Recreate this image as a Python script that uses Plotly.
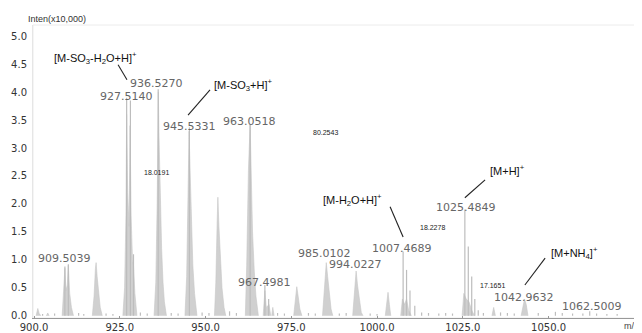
import plotly.graph_objects as go

# ---------------- data ----------------
# profile clusters (m/z, intensity x10,000)
profile_clusters = [
    [(900.6, 0), (901.1, 0.13), (901.5, 0.04), (902.0, 0)],
    [(903.6, 0), (904.0, 0.05), (904.4, 0)],
    [(908.2, 0), (908.6, 0.35), (909.0, 0.85), (909.3, 0.45), (909.7, 0.55), (910.0, 0.9), (910.4, 0.4), (910.9, 0.15), (911.5, 0)],
    [(917.0, 0), (917.5, 0.35), (917.9, 0.85), (918.1, 0.95), (918.4, 0.7), (918.8, 0.4), (919.3, 0.15), (919.9, 0)],
    [(925.9, 0), (926.4, 0.5), (926.8, 1.8), (927.0, 3.6), (927.3, 2.2), (927.7, 1.6), (928.0, 3.4), (928.3, 1.8), (928.7, 1.0), (929.0, 0.9), (929.4, 0.4), (930.0, 0)],
    [(935.0, 0), (935.5, 0.6), (935.9, 2.0), (936.1, 3.6), (936.25, 4.0), (936.4, 3.3), (936.8, 2.0), (937.2, 1.2), (937.6, 0.6), (938.0, 0.25), (938.6, 0)],
    [(944.0, 0), (944.5, 0.7), (944.9, 2.2), (945.2, 3.3), (945.5, 2.6), (945.9, 1.6), (946.3, 0.9), (946.8, 0.4), (947.5, 0)],
    [(952.6, 0), (953.0, 0.6), (953.4, 1.7), (953.6, 2.12), (953.9, 1.6), (954.3, 1.0), (954.8, 0.5), (955.4, 0.15), (955.9, 0)],
    [(961.6, 0), (962.0, 0.9), (962.5, 2.6), (962.9, 3.3), (963.0, 3.42), (963.3, 2.6), (963.7, 1.5), (964.2, 0.8), (964.7, 0.35), (965.4, 0)],
    [(966.8, 0), (967.3, 0.45), (967.7, 0.15), (968.5, 0.2), (969.0, 0)],
    [(969.3, 0), (969.6, 0.15), (970.0, 0)],
    [(975.7, 0), (976.1, 0.3), (976.6, 0.52), (977.0, 0.35), (977.5, 0.12), (978.1, 0)],
    [(984.1, 0), (984.6, 0.45), (985.0, 0.85), (985.2, 0.95), (985.6, 0.7), (986.0, 0.45), (986.6, 0.12), (987.1, 0)],
    [(992.9, 0), (993.4, 0.4), (993.9, 0.8), (994.3, 0.55), (994.8, 0.28), (995.4, 0.06), (995.9, 0)],
    [(1002.4, 0), (1002.8, 0.2), (1003.2, 0.42), (1003.6, 0.2), (1004.0, 0)],
    [(1006.9, 0), (1007.4, 0.3), (1008.0, 0.2), (1008.6, 0.3), (1009.2, 0.1), (1010.0, 0)],
    [(1024.8, 0), (1025.3, 0.4), (1026.0, 0.3), (1026.8, 0.25), (1027.6, 0.1), (1028.4, 0)],
    [(1033.5, 0), (1034.0, 0.15), (1034.5, 0)],
    [(1042.0, 0), (1042.5, 0.18), (1043.0, 0.3), (1043.5, 0.2), (1044.0, 0)],
]

# centroid sticks (m/z, intensity)
stick_mz = [909.0, 910.0, 927.0, 928.1, 929.0, 936.2, 945.3, 963.0, 967.3, 968.4,
            1007.6, 1008.6, 1009.6, 1011.0, 1025.6, 1026.6, 1027.6, 1028.5, 1029.5,
            902.5, 906, 913, 914.5, 921, 923, 931, 933, 940, 942, 949, 951, 957, 959,
            971, 973, 980, 982, 989, 991, 998, 1000, 1013, 1015, 1018, 1020, 1022,
            1031, 1036, 1038, 1040, 1047, 1052, 1054, 1057, 1060, 1062, 1064, 1067, 1070]
stick_int = [0.88, 0.92, 3.9, 3.85, 1.1, 4.05, 3.37, 3.42, 0.55, 0.3,
             1.15, 0.82, 0.45, 0.18, 1.9, 1.24, 0.7, 0.3, 0.1,
             0.03, 0.04, 0.05, 0.03, 0.04, 0.03, 0.06, 0.04, 0.05, 0.04, 0.06, 0.05, 0.08, 0.05,
             0.05, 0.04, 0.05, 0.04, 0.04, 0.05, 0.04, 0.03, 0.06, 0.05, 0.04, 0.05, 0.04,
             0.05, 0.06, 0.05, 0.04, 0.05, 0.07, 0.05, 0.04, 0.04, 0.08, 0.04, 0.03, 0.03]

# peak labels (text, m/z, y)
peak_labels = ["909.5039", "927.5140", "936.5270", "945.5331", "963.0518", "967.4981",
               "985.0102", "994.0227", "1007.4689", "1025.4849", "1042.9632", "1062.5009"]
peak_label_x = [908.9, 927.0, 935.7, 945.3, 962.8, 967.2, 984.7, 993.7, 1007.4, 1025.9, 1042.8, 1062.7]
peak_label_y = [1.02, 3.93, 4.16, 3.39, 3.47, 0.60, 1.12, 0.91, 1.21, 1.93, 0.32, 0.16]

small_labels = ["18.0191", "80.2543", "18.2278", "17.1651"]
small_label_x = [935.6, 985.1, 1016.2, 1033.7]
small_label_y = [2.56, 3.27, 1.57, 0.55]

ion_labels = ["[M-SO<sub>3</sub>-H<sub>2</sub>O+H]<sup>+</sup>", "[M-SO<sub>3</sub>+H]<sup>+</sup>",
              "[M-H<sub>2</sub>O+H]<sup>+</sup>", "[M+H]<sup>+</sup>", "[M+NH<sub>4</sub>]<sup>+</sup>"]
ion_label_x = [917.8, 961.1, 992.9, 1038.0, 1057.6]
ion_label_y = [4.61, 4.13, 2.07, 2.61, 1.12]
leaders = [((924.5, 4.49), (927.1, 4.22)),
           ((951.3, 4.04), (944.9, 3.59)),
           ((1003.8, 1.95), (1007.6, 1.41)),
           ((1031.5, 2.43), (1025.6, 2.11)),
           ((1049.0, 1.03), (1043.1, 0.55))]

x_ticks = [900, 925, 950, 975, 1000, 1025, 1050]
y_ticks = [0, 0.5, 1.0, 1.5, 2.0, 2.5, 3.0, 3.5, 4.0, 4.5, 5.0]

# ---------------- figure ----------------
px, py = [], []
for cl in profile_clusters:
    for m, v in cl:
        px.append(m)
        py.append(v)
    px.append(None)
    py.append(None)

sx, sy = [], []
for m, v in zip(stick_mz, stick_int):
    sx += [m, m, None]
    sy += [0, v, None]

fig = go.Figure()
fig.add_trace(go.Scatter(x=px, y=py, mode="lines", fill="toself",
                         fillcolor="#d0d0d0", line=dict(color="#c6c6c6", width=0.6),
                         hoverinfo="skip"))
fig.add_trace(go.Scatter(x=sx, y=sy, mode="lines",
                         line=dict(color="#bdbdbd", width=1.2), hoverinfo="skip"))

ann = []
for t, x, y in zip(peak_labels, peak_label_x, peak_label_y):
    ann.append(dict(x=x, y=y, text=t, showarrow=False, xref="x", yref="y",
                    font=dict(family="DejaVu Sans", size=11, color="#666666")))
for t, x, y in zip(small_labels, small_label_x, small_label_y):
    ann.append(dict(x=x, y=y, text=t, showarrow=False, xref="x", yref="y",
                    font=dict(family="Liberation Sans", size=7, color="#222")))
for t, x, y in zip(ion_labels, ion_label_x, ion_label_y):
    ann.append(dict(x=x, y=y, text=t, showarrow=False, xref="x", yref="y",
                    font=dict(family="Liberation Sans", size=11, color="#111")))
ann.append(dict(x=0.0, y=1.0, xref="paper", yref="paper", xanchor="left", yanchor="bottom",
                xshift=-7, yshift=-1, text="Inten(x10,000)", showarrow=False,
                font=dict(family="Liberation Sans", size=9, color="#333")))
ann.append(dict(x=1.0, y=0.0, xref="paper", yref="paper", xanchor="left", yanchor="top",
                xshift=-13, yshift=-1, text="m/z", showarrow=False,
                font=dict(family="Liberation Sans", size=9, color="#444")))

shapes = []
for (x0, y0), (x1, y1) in leaders:
    shapes.append(dict(type="line", x0=x0, y0=y0, x1=x1, y1=y1, xref="x", yref="y",
                       line=dict(color="#222", width=1.1)))

# page body adds an 8 px offset; offset margins so the plot lands where the reference has it
fig.update_layout(
    width=642, height=333,
    margin=dict(l=25, r=15, t=17, b=23, autoexpand=False),
    paper_bgcolor="white", plot_bgcolor="white",
    showlegend=False,
    annotations=ann, shapes=shapes,
    xaxis=dict(range=[899.7, 1075.2], tickvals=x_ticks, automargin=False,
               ticktext=[f"{v:.1f}" for v in x_ticks],
               showgrid=False, zeroline=False, showline=True, linecolor="#999",
               linewidth=1, mirror=False, ticks="inside", ticklen=2, tickcolor="#999",
               tickfont=dict(family="DejaVu Sans", size=10, color="#333")),
    yaxis=dict(range=[-0.04, 5.2], tickvals=y_ticks, automargin=False,
               ticktext=[f"{v:.1f}" for v in y_ticks],
               showgrid=False, zeroline=False, showline=True, linecolor="#e6e6e6",
               linewidth=1, ticks="outside", ticklen=3, tickcolor="rgba(0,0,0,0)",
               tickfont=dict(family="DejaVu Sans", size=10, color="#333")),
)
# faint frame top/right
fig.add_shape(type="rect", xref="paper", yref="paper", x0=0, y0=0, x1=1, y1=1,
              line=dict(color="#ececec", width=1), layer="below")

fig.write_html("out.html")
